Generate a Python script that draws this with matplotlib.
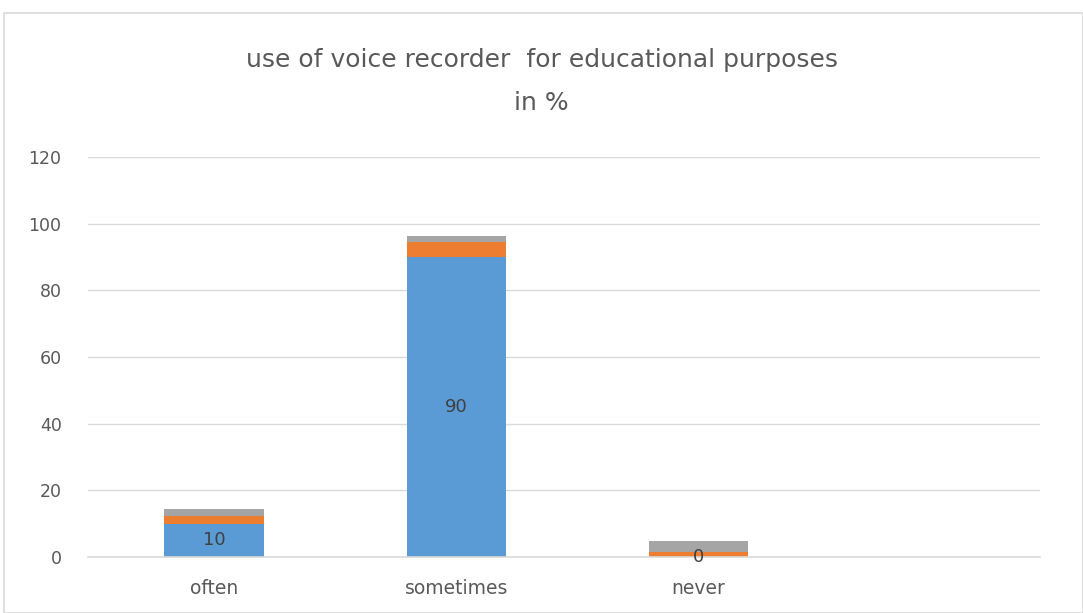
import numpy as np
import matplotlib.pyplot as plt
from matplotlib.patches import Rectangle

categories = ['often', 'sometimes', 'never', '']
series1 = [10, 90, 0, 0]
series2 = [2.4, 4.4, 1.6, 0]
series3 = [2.1, 2.0, 3.2, 0]

blue = '#5B9BD5'
orange = '#ED7D31'
gray = '#A5A5A5'
txt = '#595959'

fig = plt.figure(figsize=(10.83, 6.13), dpi=100)
fig.patches.append(Rectangle((4/1083, 0), 1 - 4/1083, 1 - 13/613, transform=fig.transFigure,
                             fill=False, edgecolor='#D9D9D9', linewidth=1.2))
ax = fig.add_axes([88/1083, 1 - 557/613, (1040 - 88)/1083, 400/613])

x = np.arange(len(categories))
w = 0.41
s1 = np.array(series1)
s2 = np.array(series2)
s3 = np.array(series3)
ax.bar(x, s1, w, color=blue, zorder=2)
ax.bar(x, s2, w, bottom=s1, color=orange, zorder=2)
ax.bar(x, s3, w, bottom=s1 + s2, color=gray, zorder=2)

for i in range(3):
    ax.text(x[i], s1[i] / 2, str(series1[i]), ha='center', va='center',
            fontsize=13, color='#404040', zorder=3)

ax.set_xlim(-0.52, 3.41)
ax.set_ylim(0, 120)
ax.set_yticks(range(0, 121, 20))
ax.set_xticks(x[:3])
ax.set_xticklabels(categories[:3])
ax.yaxis.grid(True, color='#D9D9D9', linewidth=1, zorder=0)
ax.tick_params(axis='both', length=0, colors=txt)
ax.tick_params(axis='y', pad=19, labelsize=12.5)
ax.tick_params(axis='x', pad=16, labelsize=13.5)
for s in ['top', 'right', 'left']:
    ax.spines[s].set_visible(False)
ax.spines['bottom'].set_color('#D9D9D9')
ax.spines['bottom'].set_linewidth(1.2)

fig.text(0.5, 1 - 60/613, 'use of voice recorder  for educational purposes', ha='center',
         va='center', fontsize=18, color=txt)
fig.text(0.5, 1 - 103/613, 'in %', ha='center', va='center', fontsize=18, color=txt)

fig.savefig('out.png', dpi=100)
